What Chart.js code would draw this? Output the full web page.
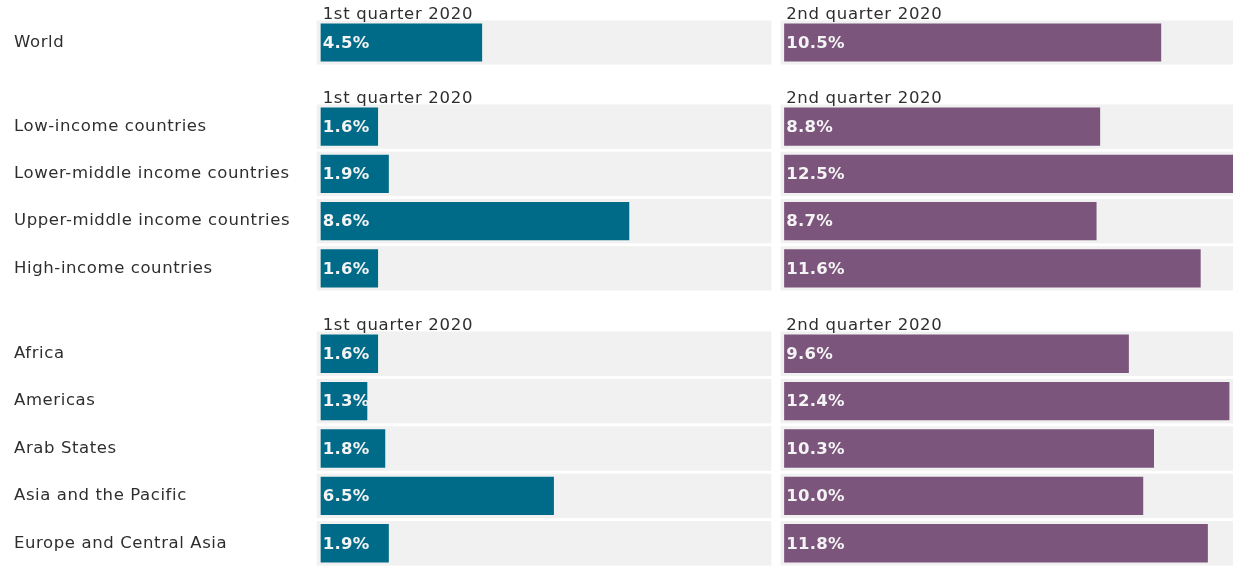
<!DOCTYPE html>
<html>
<head>
<meta charset="utf-8">
<script src="https://cdn.jsdelivr.net/npm/chart.js@4.4.1/dist/chart.umd.min.js"></script>
<style>
  html, body { margin: 0; padding: 0; background: #fff; }
  body { width: 1233px; height: 567px; position: relative; overflow: hidden; }
  .group { position: absolute; left: 0; width: 1233px; }
</style>
</head>
<body>
<div class="group" style="top:0px;height:66px"><canvas id="world"></canvas></div>
<div class="group" style="top:83px;height:209px"><canvas id="income"></canvas></div>
<div class="group" style="top:310px;height:257px"><canvas id="region"></canvas></div>
<script>
// data
const quarterLabels = ['1st quarter 2020', '2nd quarter 2020'];

const worldLabels = ['World'];
const worldQ1 = [4.5];
const worldQ2 = [10.5];

const incomeLabels = ['Low-income countries', 'Lower-middle income countries', 'Upper-middle income countries', 'High-income countries'];
const incomeQ1 = [1.6, 1.9, 8.6, 1.6];
const incomeQ2 = [8.8, 12.5, 8.7, 11.6];

const regionLabels = ['Africa', 'Americas', 'Arab States', 'Asia and the Pacific', 'Europe and Central Asia'];
const regionQ1 = [1.6, 1.3, 1.8, 6.5, 1.9];
const regionQ2 = [9.6, 12.4, 10.3, 10.0, 11.8];

const teal = '#006b88';
const purple = '#7b557c';
const track = '#f1f1f1';
const textColor = '#2e2e2e';
const fontFamily = "'DejaVu Sans', Verdana, sans-serif";

// grey track behind each bar + headers + value labels
const panelPlugin = {
  id: 'panels',
  beforeDraw(chart) {
    chart.ctx.letterSpacing = '0.6px';
  },
  beforeDatasetsDraw(chart) {
    const { ctx, scales } = chart;
    const y = scales.y;
    const rowH = y.height / y.ticks.length;
    const h = rowH * 0.94;
    ctx.save();
    ctx.fillStyle = track;
    [['x1', -0.11, 12.56], ['x2', -0.1, 12.5]].forEach(([id, a, b]) => {
      const s = scales[id];
      const x0 = s.getPixelForValue(a);
      const x1 = s.getPixelForValue(b);
      y.ticks.forEach((t, i) => {
        const cy = y.getPixelForValue(i);
        ctx.fillRect(x0, cy - h / 2, x1 - x0, h);
      });
    });
    ctx.restore();
  },
  afterDatasetsDraw(chart) {
    const { ctx, scales, chartArea } = chart;
    ctx.save();
    ctx.letterSpacing = '0.3px';
    ctx.font = "bold 16.5px " + fontFamily;
    ctx.fillStyle = '#f4f4f4';
    ctx.textBaseline = 'middle';
    ctx.textAlign = 'left';
    chart.data.datasets.forEach((ds, di) => {
      chart.getDatasetMeta(di).data.forEach((el, i) => {
        ctx.fillText(ds.data[i].toFixed(1) + '%', el.base + 2, el.y + 1);
      });
    });
    ctx.letterSpacing = '0.7px';
    ctx.font = "16.5px " + fontFamily;
    ctx.fillStyle = textColor;
    ctx.textBaseline = 'alphabetic';
    ['x1', 'x2'].forEach((id, qi) => {
      ctx.fillText(quarterLabels[qi], scales[id].getPixelForValue(0) + 2, chartArea.top);
    });
    ctx.restore();
  }
};

function makeChart(id, labels, q1, q2, topPad) {
  const barPct = 0.81;
  return new Chart(document.getElementById(id), {
    type: 'bar',
    data: {
      labels: labels,
      datasets: [
        { label: quarterLabels[0], data: q1, xAxisID: 'x1', backgroundColor: teal, borderWidth: 0, barPercentage: barPct, categoryPercentage: 1 },
        { label: quarterLabels[1], data: q2, xAxisID: 'x2', backgroundColor: purple, borderWidth: 0, barPercentage: barPct, categoryPercentage: 1 }
      ]
    },
    options: {
      indexAxis: 'y',
      responsive: true,
      maintainAspectRatio: false,
      animation: false,
      layout: { padding: { top: topPad, left: 14, right: 0, bottom: 0 } },
      plugins: { legend: { display: false }, tooltip: { enabled: false } },
      datasets: { bar: { grouped: false } },
      scales: {
        x1: { type: 'linear', position: 'top', stack: 'q', stackWeight: 461, weight: 1, min: -0.11, max: 12.74, display: false },
        x2: { type: 'linear', position: 'top', stack: 'q', stackWeight: 455, weight: 0, min: -0.175, max: 12.5, display: false },
        y: {
          afterFit(scale) {
            scale.width = 302.7;
            scale.paddingTop = 0;
            scale.paddingBottom = 0;
          },
          grid: { display: false },
          border: { display: false },
          ticks: {
            crossAlign: 'far',
            padding: 0,
            color: textColor,
            font: { family: fontFamily, size: 16.5 }
          }
        }
      }
    },
    plugins: [panelPlugin]
  });
}

makeChart('world', worldLabels, worldQ1, worldQ2, 19);
makeChart('income', incomeLabels, incomeQ1, incomeQ2, 20);
makeChart('region', regionLabels, regionQ1, regionQ2, 20);
</script>
</body>
</html>
